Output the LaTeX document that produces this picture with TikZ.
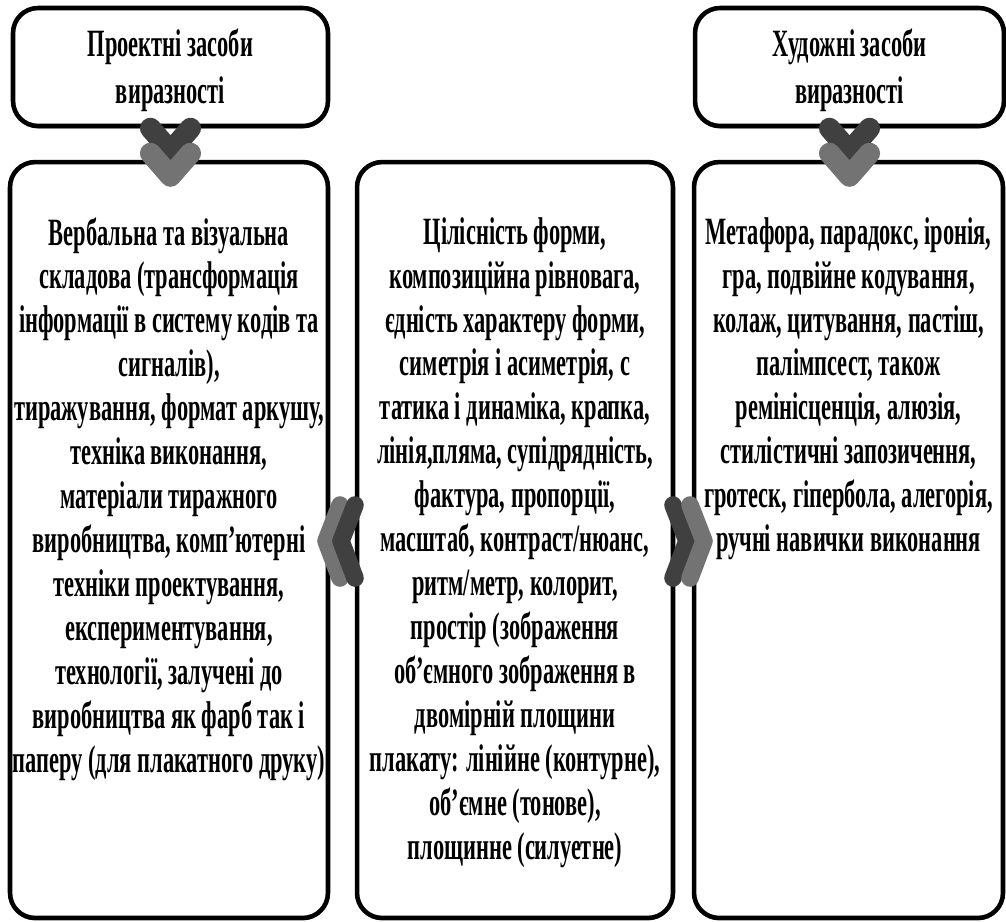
\documentclass[tikz,border=0pt]{standalone}
\usepackage{fontspec}
\setmainfont{Liberation Serif}[FakeStretch=0.58]
\usetikzlibrary{positioning,shadows}

\begin{document}
\begin{tikzpicture}[x=0.02cm, y=-0.02cm,
  panel/.style={draw=black, line width=2.6pt, rounded corners=0.5cm, fill=white, inner sep=0pt,
    drop shadow={shadow xshift=0pt, shadow yshift=-1.4pt, fill=black!60, opacity=1}},
  every node/.style={font=\bfseries\fontsize{22}{25}\selectfont},
  body/.style={align=center, inner sep=0pt, anchor=north},
  darkchev/.style={draw=black!75, line width=12pt, line cap=round, line join=round},
  lightchev/.style={draw=black!55, line width=12pt, line cap=round, line join=round},
  sidedark/.style={darkchev, line width=10pt},
  sidelight/.style={lightchev, line width=10pt}]
\useasboundingbox (0,0) rectangle (1006,921);

% top boxes
\node[panel, minimum width=6.3cm, minimum height=2.36cm] (proj) at (170.5,67) {};
\node[panel, minimum width=6.18cm, minimum height=2.36cm] (art) at (849.5,67) {};
\path (170.5,70) node[align=center, font=\bfseries\fontsize{22}{26.5}\selectfont] (projtxt) {Проектні засоби\\виразності};
\path (849.5,70) node[align=center, font=\bfseries\fontsize{22}{26.5}\selectfont] (arttxt) {Художні засоби\\виразності};

% main boxes
\node[panel, minimum width=6.36cm, minimum height=15.12cm] (left) at (169,540) {};
\node[panel, minimum width=6.32cm, minimum height=15.12cm] (mid) at (515,540) {};
\node[panel, minimum width=6.18cm, minimum height=15.12cm] (right) at (848.5,540) {};

\node[body] (lefttxt) at (169,217) {Вербальна та візуальна\\
складова (трансформація\\
інформації в систему кодів та\\
сигналів),\\
тиражування, формат аркушу,\\
техніка виконання,\\
матеріали тиражного\\
виробництва, комп’ютерні\\
техніки проектування,\\
експериментування,\\
технології, залучені до\\
виробництва як фарб так і\\
паперу (для плакатного друку)};

\node[body] (midtxt) at (515,217) {Цілісність форми,\\
композиційна рівновага,\\
єдність характеру форми,\\
симетрія і асиметрія, с\\
татика і динаміка, крапка,\\
лінія,пляма, супідрядність,\\
фактура, пропорції,\\
масштаб, контраст/нюанс,\\
ритм/метр, колорит,\\
простір (зображення\\
об’ємного зображення в\\
двомірній площини\\
плакату: лінійне (контурне),\\
об’ємне (тонове),\\
площинне (силуетне)};

\node[body] (righttxt) at (848.5,217) {Метафора, парадокс, іронія,\\
гра, подвійне кодування,\\
колаж, цитування, пастіш,\\
палімпсест, також\\
ремінісценція, алюзія,\\
стилістичні запозичення,\\
гротеск, гіпербола, алегорія,\\
ручні навички виконання};

% down chevrons
\draw[darkchev] ([xshift=-0.4cm]proj.south) -- ++(20,23) -- ++(20,-23);
\draw[lightchev] ([xshift=-0.4cm,yshift=-0.5cm]proj.south) -- ++(20,23) -- ++(20,-23);
\draw[darkchev] ([xshift=-0.4cm]art.south) -- ++(20,23) -- ++(20,-23);
\draw[lightchev] ([xshift=-0.4cm,yshift=-0.5cm]art.south) -- ++(20,23) -- ++(20,-23);

% side chevrons
\draw[sidelight] (340,505) -- (326,541) -- (340,578);
\draw[sidedark] (355,505) -- (341,541) -- (355,578);
\draw[sidedark] (673,505) -- (687,541) -- (673,578);
\draw[sidelight] (690,505) -- (704,541) -- (690,578);
\end{tikzpicture}
\end{document}
